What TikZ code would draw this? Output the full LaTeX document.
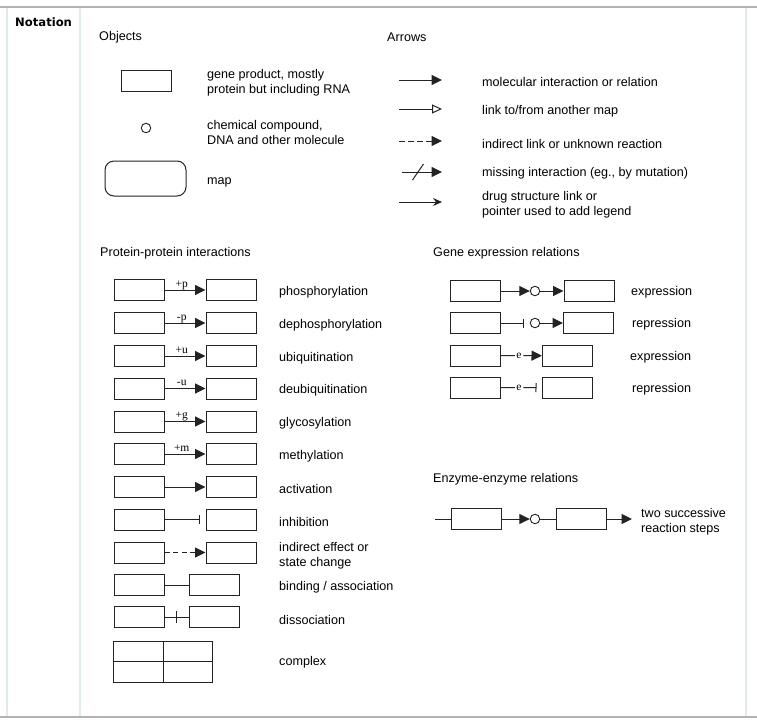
\documentclass[tikz,border=0pt]{standalone}
\usepackage{fontspec}
\setmainfont{Liberation Sans}
\newfontfamily\modfont{Liberation Serif}
\newfontfamily\headfont{DejaVu Sans Bold}
\usepackage{xcolor}
\definecolor{kgline}{RGB}{35,35,35}
\definecolor{kggray}{RGB}{178,178,178}
\definecolor{kggreen}{RGB}{226,237,226}
\usetikzlibrary{positioning, arrows.meta, calc}

\begin{document}
\begin{tikzpicture}[
    % GLOBAL CFG
    x=1pt, y=-1pt,
    font=\fontsize{12.6}{15}\selectfont,
    % Styles
    gp/.style={% For gene products
        rectangle,
        draw=kgline,
        line width=1pt,
        minimum width=50,
        minimum height=21,
        inner sep=0pt,
        },
    cpd/.style={% For compounds
        circle,
        draw=kgline,
        line width=0.9pt,
        minimum size=9.5,
        inner sep=0pt,
        },
    mapbox/.style={% For maps
        rectangle,
        rounded corners=9pt,
        draw=kgline,
        line width=1pt,
        minimum width=81,
        minimum height=35,
        },
    txt/.style={% For the legend texts
        anchor=west,
        align=left,
        inner sep=0pt,
        yshift=-1.5pt,
        },
    modlbl/.style={% For +p, -u and the like
        font=\modfont\fontsize{11.5}{12}\selectfont,
        inner sep=0.4pt,
        text depth=2pt,
        },
    link/.style={% Plain lines
        draw=kgline,
        line width=1pt,
        },
    act/.style={% Arrows with filled heads
        link,
        -{Triangle[length=10.5pt,width=10pt]},
        },
    inh/.style={% Arrows with bars
        link,
        -{Bar[width=9pt]},
        shorten >=5.5pt,
        },
    ]

% The frame of the table
    \useasboundingbox (0,0) rectangle (757,721);
    \draw [kggray, line width=2pt] (0,7) -- (757,7);
    \draw [kggray, line width=2pt] (0,716.5) -- (757,716.5);
    \draw [kggreen, line width=2.5pt] (7,8) -- (7,715.5);
    \draw [kggreen, line width=2.5pt] (80,8) -- (80,715.5);
    \draw [kggreen, line width=2.5pt] (746,8) -- (746,715.5);
    \node [txt, font=\headfont\fontsize{11.6}{13}\selectfont] (notation) at (15,20.5) {Notation};

% Objects
    \node [txt] (hobj) at (99,36) {Objects};
    \node [gp] (obj1) at (146,80.5) {};
    \node [cpd] (obj2) at (146,128) {};
    \node [mapbox] (obj3) at (145.5,178.5) {};
    \node [txt] (tobj1) at (207,81.5) {gene product, mostly\\protein but including RNA};
    \node [txt] (tobj2) at (207,130.5) {chemical compound,\\DNA and other molecule};
    \node [txt] (tobj3) at (207,181) {map};

% Arrows
    \node [txt] (harr) at (387,36) {Arrows};
    \coordinate (arr1a) at (399,80);  \coordinate (arr1b) at (442,80);
    \coordinate (arr2a) at (399,109); \coordinate (arr2b) at (442,109);
    \coordinate (arr3a) at (399,141); \coordinate (arr3b) at (442,141);
    \coordinate (arr4a) at (402,172); \coordinate (arr4b) at (442,172);
    \coordinate (arr5a) at (399,202); \coordinate (arr5b) at (442,202);

    \draw [act] (arr1a) -- (arr1b);
    \draw [link, -{Triangle[open,length=10pt,width=9pt]}] (arr2a) -- (arr2b);
    \draw [act, dash pattern=on 5.5pt off 3.5pt] (arr3a) -- (arr3b);
    \draw [act] (arr4a) -- coordinate[pos=0.4] (slash) (arr4b);
    \draw [link] ([shift={(-5.5,8)}]slash) -- ([shift={(5.5,-8)}]slash);
    \draw [link, -{Stealth[length=9pt,width=8pt,inset=3pt]}] (arr5a) -- (arr5b);

    \node [txt] (tarr1) at (482,80) {molecular interaction or relation};
    \node [txt] (tarr2) at (482,110) {link to/from another map};
    \node [txt] (tarr3) at (482,142) {indirect link or unknown reaction};
    \node [txt] (tarr4) at (482,172) {missing interaction (eg., by mutation)};
    \node [txt] (tarr5) at (482,203) {drug structure link or\\pointer used to add legend};

% Protein-protein interactions
    \node [txt] (hppi) at (100,252) {Protein-protein interactions};

    % Boxes named p#a (left) and p#b (right)
    \node [gp] (p1a) at (139,290) {};   \node [gp] (p1b) at (231,290) {};
    \node [gp] (p2a) at (139,323) {};   \node [gp] (p2b) at (231,323) {};
    \node [gp] (p3a) at (139,356) {};   \node [gp] (p3b) at (231,356) {};
    \node [gp] (p4a) at (139,388.5) {}; \node [gp] (p4b) at (231,388.5) {};
    \node [gp] (p5a) at (139,421.5) {}; \node [gp] (p5b) at (231,421.5) {};
    \node [gp] (p6a) at (139,454) {};   \node [gp] (p6b) at (231,454) {};
    \node [gp] (p7a) at (139,487) {};   \node [gp] (p7b) at (231,487) {};
    \node [gp] (p8a) at (139,519.5) {}; \node [gp] (p8b) at (231,519.5) {};
    \node [gp] (p9a) at (139,552.5) {}; \node [gp] (p9b) at (231,552.5) {};
    \node [gp] (p10a) at (139,585) {};  \node [gp] (p10b) at (214,585) {};
    \node [gp] (p11a) at (139,617) {};  \node [gp] (p11b) at (214,617) {};

    % Complex: four cells
    \node [gp, minimum width=49.5, minimum height=20.5] (cx1) at (138.5,651.5) {};
    \node [gp, minimum width=49.5, minimum height=20.5] (cx2) at (188,651.5) {};
    \node [gp, minimum width=49.5, minimum height=20.5] (cx3) at (138.5,672) {};
    \node [gp, minimum width=49.5, minimum height=20.5] (cx4) at (188,672) {};

    % Connections
    \draw [act] (p1a) -- (p1b) node[modlbl, pos=0.42, above] {+p};
    \draw [act] (p2a) -- (p2b) node[modlbl, pos=0.42, above] {-p};
    \draw [act] (p3a) -- (p3b) node[modlbl, pos=0.42, above] {+u};
    \draw [act] (p4a) -- (p4b) node[modlbl, pos=0.42, above] {-u};
    \draw [act] (p5a) -- (p5b) node[modlbl, pos=0.42, above] {+g};
    \draw [act] (p6a) -- (p6b) node[modlbl, pos=0.42, above] {+m};
    \draw [act] (p7a) -- (p7b);
    \draw [inh] (p8a) -- (p8b);
    \draw [act, dash pattern=on 5pt off 3.5pt] (p9a) -- (p9b);
    \draw [link] (p10a) -- (p10b);
    \draw [link] (p11a) -- coordinate[midway] (tick) (p11b);
    \draw [link] ([yshift=-6pt]tick) -- ([yshift=6pt]tick);

    % Texts
    \node [txt] (tp1) at (279,291) {phosphorylation};
    \node [txt] (tp2) at (279,323.5) {dephosphorylation};
    \node [txt] (tp3) at (279,356.5) {ubiquitination};
    \node [txt] (tp4) at (279,389) {deubiquitination};
    \node [txt] (tp5) at (279,422) {glycosylation};
    \node [txt] (tp6) at (279,455) {methylation};
    \node [txt] (tp7) at (279,487.5) {activation};
    \node [txt] (tp8) at (279,520) {inhibition};
    \node [txt] (tp9) at (279,554) {indirect effect or\\state change};
    \node [txt] (tp10) at (279,585.5) {binding / association};
    \node [txt] (tp11) at (279,618) {dissociation};
    \node [txt] (tp12) at (279,661) {complex};

% Gene expression relations
    \node [txt] (hgene) at (433,252) {Gene expression relations};

    \node [gp] (g1a) at (475.5,291) {};
    \node [cpd] (g1c) at (535,291) {};
    \node [gp] (g1b) at (589,291) {};
    \node [gp] (g2a) at (475.5,323) {};
    \node [cpd] (g2c) at (535,323) {};
    \node [gp] (g2b) at (588.5,323) {};
    \node [gp] (g3a) at (475.5,356) {};
    \node [modlbl, text depth=0pt, inner sep=1.5pt] (g3e) at (519,355.5) {e};
    \node [gp] (g3b) at (567.5,356) {};
    \node [gp] (g4a) at (475.5,388) {};
    \node [modlbl, text depth=0pt, inner sep=1.5pt] (g4e) at (519,387.5) {e};
    \node [gp] (g4b) at (567.5,388) {};

    \draw [act] (g1a) -- (g1c);
    \draw [act] (g1c) -- (g1b);
    \draw [inh] (g2a) -- (g2c);
    \draw [act] (g2c) -- (g2b);
    \draw [link] (g3a) -- (g3e);
    \draw [act] (g3e) -- (g3b);
    \draw [link] (g4a) -- (g4e);
    \draw [inh] (g4e) -- (g4b);

    \node [txt] (tg1) at (631,291) {expression};
    \node [txt] (tg2) at (632,323) {repression};
    \node [txt] (tg3) at (630,356) {expression};
    \node [txt] (tg4) at (632,388) {repression};

% Enzyme-enzyme relations
    \node [txt] (henz) at (433,478) {Enzyme-enzyme relations};

    \coordinate (enzin) at (435,519);
    \node [gp] (enz1) at (476,519) {};
    \node [cpd] (enzc) at (535,519) {};
    \node [gp] (enz2) at (581.5,519) {};
    \coordinate (enzout) at (632,519);

    \draw [link] (enzin) -- (enz1);
    \draw [act] (enz1) -- (enzc);
    \draw [link] (enzc) -- (enz2);
    \draw [act] (enz2) -- (enzout);

    \node [txt] (tenz) at (641,520) {two successive\\reaction steps};

\end{tikzpicture}
\end{document}
